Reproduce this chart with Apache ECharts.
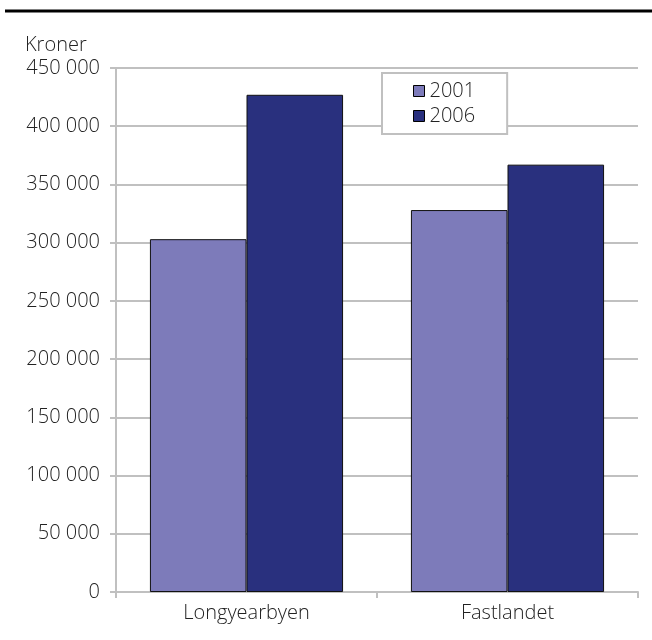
<!DOCTYPE html>
<html>
<head>
<meta charset="utf-8">
<script src="https://cdn.jsdelivr.net/npm/echarts@6/dist/echarts.min.js"></script>
<style>
html,body{margin:0;padding:0;background:#fff;}
#chart{width:652px;height:640px;}
</style>
</head>
<body>
<div id="chart"></div>
<script>
const categories = ['Longyearbyen', 'Fastlandet'];
const seriesNames = ['2001', '2006'];
const values2001 = [303000, 328000];
const values2006 = [427000, 367000];
const yUnit = 'Kroner';

const FONT = '"Open Sans", "Noto Sans", sans-serif';
const W = 300;
const chart = echarts.init(document.getElementById('chart'), null, {renderer: 'canvas'});
const fmt = v => String(v).replace(/\B(?=(\d{3})+(?!\d))/g, ' ');

chart.setOption({
  animation: false,
  textStyle: {fontFamily: FONT, fontWeight: W},
  grid: {left: 116, right: 14, top: 68, bottom: 48, containLabel: false},
  graphic: [
    {type: 'line', shape: {x1: 5, y1: 11, x2: 652, y2: 11}, style: {stroke: '#000', lineWidth: 3}},
    {type: 'text', left: 25, top: 35, style: {text: yUnit, font: W + ' 20px ' + FONT, fill: '#222'}}
  ],
  legend: {
    orient: 'vertical',
    left: 382, top: 73,
    data: seriesNames,
    backgroundColor: '#fff',
    borderColor: '#c0c0c0', borderWidth: 2, borderRadius: 0,
    padding: [8, 32, 8, 31],
    itemWidth: 11, itemHeight: 11, itemGap: 5, itemTextGap: 10,
    icon: 'rect',
    itemStyle: {borderColor: '#000', borderWidth: 1},
    textStyle: {fontSize: 20, lineHeight: 20, color: '#222', fontFamily: FONT, fontWeight: W}
  },
  xAxis: {
    type: 'category',
    data: categories,
    axisLine: {lineStyle: {color: '#c0c0c0', width: 2}},
    axisTick: {show: true, alignWithLabel: false, length: 6, lineStyle: {color: '#c0c0c0', width: 2}},
    axisLabel: {fontSize: 20, color: '#222', margin: 11, fontFamily: FONT, fontWeight: W}
  },
  yAxis: {
    type: 'value',
    min: 0, max: 450000, interval: 50000,
    axisLine: {show: true, lineStyle: {color: '#c0c0c0', width: 2}},
    axisTick: {show: true, length: 6, lineStyle: {color: '#c0c0c0', width: 2}},
    splitLine: {lineStyle: {color: '#c0c0c0', width: 2}},
    axisLabel: {fontSize: 20, color: '#222', margin: 16, fontFamily: FONT, fontWeight: W, formatter: fmt}
  },
  series: [
    {name: seriesNames[0], type: 'bar', data: values2001, barGap: '0%', barCategoryGap: '26%',
     itemStyle: {color: '#7d7bba', borderColor: '#111', borderWidth: 1}},
    {name: seriesNames[1], type: 'bar', data: values2006, barGap: '0%', barCategoryGap: '26%',
     itemStyle: {color: '#29307e', borderColor: '#111', borderWidth: 1}}
  ]
});
</script>
</body>
</html>
